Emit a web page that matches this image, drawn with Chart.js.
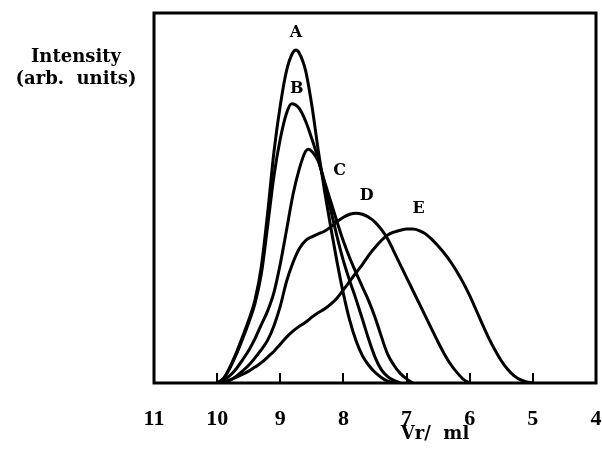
<!DOCTYPE html>
<html>
<head>
<meta charset="utf-8">
<script src="https://cdn.jsdelivr.net/npm/chart.js@4/dist/chart.umd.min.js"></script>
<style>
  html, body { margin: 0; padding: 0; background: #fff; }
  #wrap { width: 602px; height: 452px; position: relative; }
</style>
</head>
<body>
<div id="wrap"><canvas id="c" width="602" height="452"></canvas></div>
<script>
// Elution profiles: retention volume (ml) and intensity (arb. units) per sample
const vrA  = [10.0, 9.9, 9.8, 9.7, 9.6, 9.5, 9.4, 9.3, 9.2, 9.1, 9.0, 8.9, 8.8, 8.75, 8.7, 8.6, 8.5, 8.4, 8.3, 8.2, 8.1, 8.0, 7.9, 7.8, 7.7, 7.6, 7.5, 7.4, 7.3, 7.2];
const intA = [0, 1.2, 4.2, 8, 12.4, 17, 22.5, 31.5, 46, 62.5, 75, 84.5, 89.3, 90, 89.2, 84.5, 75, 63, 52, 42, 32.6, 24.1, 16.9, 11.4, 7.4, 4.8, 2.9, 1.5, 0.5, 0];

const vrB  = [10.0, 9.9, 9.8, 9.7, 9.6, 9.5, 9.4, 9.3, 9.2, 9.1, 9.0, 8.9, 8.82, 8.7, 8.6, 8.5, 8.4, 8.3, 8.2, 8.1, 8.0, 7.9, 7.8, 7.7, 7.6, 7.5, 7.4, 7.3, 7.2, 7.1];
const intB = [0, 1.2, 4, 7.6, 11.8, 16.3, 21.5, 29.5, 42.5, 56, 66, 73, 75.5, 74.2, 70.8, 66, 60.6, 54, 46.7, 39.5, 33, 27.6, 22.6, 17.3, 11.8, 7, 3.6, 1.7, 0.7, 0];

const vrC  = [10.0, 9.9, 9.8, 9.7, 9.6, 9.5, 9.4, 9.3, 9.2, 9.1, 9.0, 8.9, 8.8, 8.7, 8.6, 8.55, 8.5, 8.4, 8.3, 8.2, 8.1, 8.0, 7.9, 7.8, 7.7, 7.6, 7.5, 7.4, 7.3, 7.2, 7.1, 7.0, 6.9];
const intC = [0, 0.8, 2, 3.8, 6.2, 8.8, 12, 15.8, 19.5, 24.5, 32.2, 41.4, 50.8, 57.8, 62.6, 63.2, 62.6, 60, 54.5, 49, 43.5, 38.3, 33.8, 29.8, 26, 22.2, 17.8, 12.6, 7.8, 4.8, 2.6, 1.1, 0];

const vrD  = [10.0, 9.9, 9.8, 9.7, 9.6, 9.5, 9.4, 9.3, 9.2, 9.1, 9.0, 8.9, 8.8, 8.7, 8.6, 8.5, 8.4, 8.3, 8.2, 8.1, 8.0, 7.9, 7.8, 7.7, 7.6, 7.5, 7.4, 7.3, 7.2, 7.1, 7.0, 6.9, 6.8, 6.7, 6.6, 6.5, 6.4, 6.3, 6.2, 6.1, 6.0];
const intD = [0, 0.2, 0.7, 1.8, 3.2, 4.8, 6.8, 9, 11.6, 15.5, 20.8, 27.5, 32.5, 36.3, 38.5, 39.5, 40.3, 41, 42.2, 43.6, 44.8, 45.6, 45.9, 45.6, 44.8, 43.5, 41.5, 39, 35.5, 32, 28.5, 25, 21.5, 18, 14.5, 11, 7.8, 5, 2.8, 1, 0];

const vrE  = [10.0, 9.9, 9.8, 9.7, 9.6, 9.5, 9.4, 9.3, 9.2, 9.1, 9.0, 8.9, 8.8, 8.7, 8.6, 8.5, 8.4, 8.3, 8.2, 8.1, 8.0, 7.9, 7.8, 7.7, 7.6, 7.5, 7.4, 7.3, 7.2, 7.1, 7.0, 6.9, 6.8, 6.7, 6.6, 6.5, 6.4, 6.3, 6.2, 6.1, 6.0, 5.9, 5.8, 5.7, 5.6, 5.5, 5.4, 5.3, 5.2, 5.1, 5.0];
const intE = [0, 0.3, 0.8, 1.5, 2.3, 3.2, 4.3, 5.5, 7, 8.6, 10.5, 12.4, 14, 15.3, 16.4, 17.8, 19, 20, 21.3, 23, 25.2, 27.5, 29.8, 32, 34.5, 36.6, 38.5, 40, 40.8, 41.3, 41.6, 41.6, 41.2, 40.3, 38.8, 37, 35, 32.7, 30, 27, 23.6, 19.8, 15.9, 12.2, 8.9, 6, 3.7, 2, 0.9, 0.3, 0];

const sampleNames = ['A', 'B', 'C', 'D', 'E'];
// where each sample letter sits, in axis units
const nameVr  = [8.75, 8.74, 8.06, 7.63, 6.81];
const nameInt = [94.6, 79.5, 57.4, 50.7, 47.2];

const xTickLabels = [11, 10, 9, 8, 7, 6, 5, 4];
const xTickMarks  = [10, 9, 8, 7, 6, 5];

const series = [[vrA, intA], [vrB, intB], [vrC, intC], [vrD, intD], [vrE, intE]];

const SERIF = '"Liberation Serif", serif';
const WIDE_SERIF = '"DejaVu Serif", serif';

function centered(ctx, str, cx, y) {
  ctx.textAlign = 'center';
  ctx.fillText(str, cx, y);
}

const frame = {
  id: 'frame',
  afterDatasetsDraw(chart) {
    const { ctx, chartArea: a, scales } = chart;
    const xs = scales.x, ys = scales.y;
    ctx.save();
    ctx.strokeStyle = '#000';
    ctx.fillStyle = '#000';

    // plot box
    ctx.lineWidth = 3;
    ctx.strokeRect(a.left, a.top, a.right - a.left, a.bottom - a.top);

    // inward tick marks on the bottom edge
    ctx.lineWidth = 2;
    xTickMarks.forEach(v => {
      const x = Math.round(xs.getPixelForValue(v));
      ctx.beginPath();
      ctx.moveTo(x, a.bottom);
      ctx.lineTo(x, a.bottom - 10);
      ctx.stroke();
    });

    // tick labels
    ctx.font = 'bold 22px ' + SERIF;
    ctx.textBaseline = 'alphabetic';
    xTickLabels.forEach(v => centered(ctx, String(v), xs.getPixelForValue(v), 425));

    // axis titles
    ctx.font = 'bold 18px ' + WIDE_SERIF;
    centered(ctx, 'Vr/  ml', 435, 439);
    centered(ctx, 'Intensity', 76, 62);
    centered(ctx, '(arb.  units)', 76, 84);

    // sample letters
    ctx.font = 'bold 16px ' + WIDE_SERIF;
    ctx.textBaseline = 'middle';
    sampleNames.forEach((n, i) => {
      centered(ctx, n, xs.getPixelForValue(nameVr[i]), ys.getPixelForValue(nameInt[i]));
    });
    ctx.restore();
  }
};

new Chart(document.getElementById('c'), {
  type: 'line',
  data: {
    datasets: series.map((s, k) => ({
      label: sampleNames[k],
      data: s[0].map((v, i) => ({ x: v, y: s[1][i] })),
      borderColor: '#000',
      borderWidth: 3,
      pointRadius: 0,
      fill: false,
      cubicInterpolationMode: 'monotone'
    }))
  },
  options: {
    responsive: false,
    animation: false,
    devicePixelRatio: 1,
    layout: { padding: { left: 154, right: 6, top: 13, bottom: 69 } },
    scales: {
      x: { type: 'linear', reverse: true, min: 4, max: 11, display: false },
      y: { type: 'linear', min: 0, max: 100, display: false }
    },
    plugins: { legend: { display: false }, tooltip: { enabled: false } }
  },
  plugins: [frame]
});
</script>
</body>
</html>
